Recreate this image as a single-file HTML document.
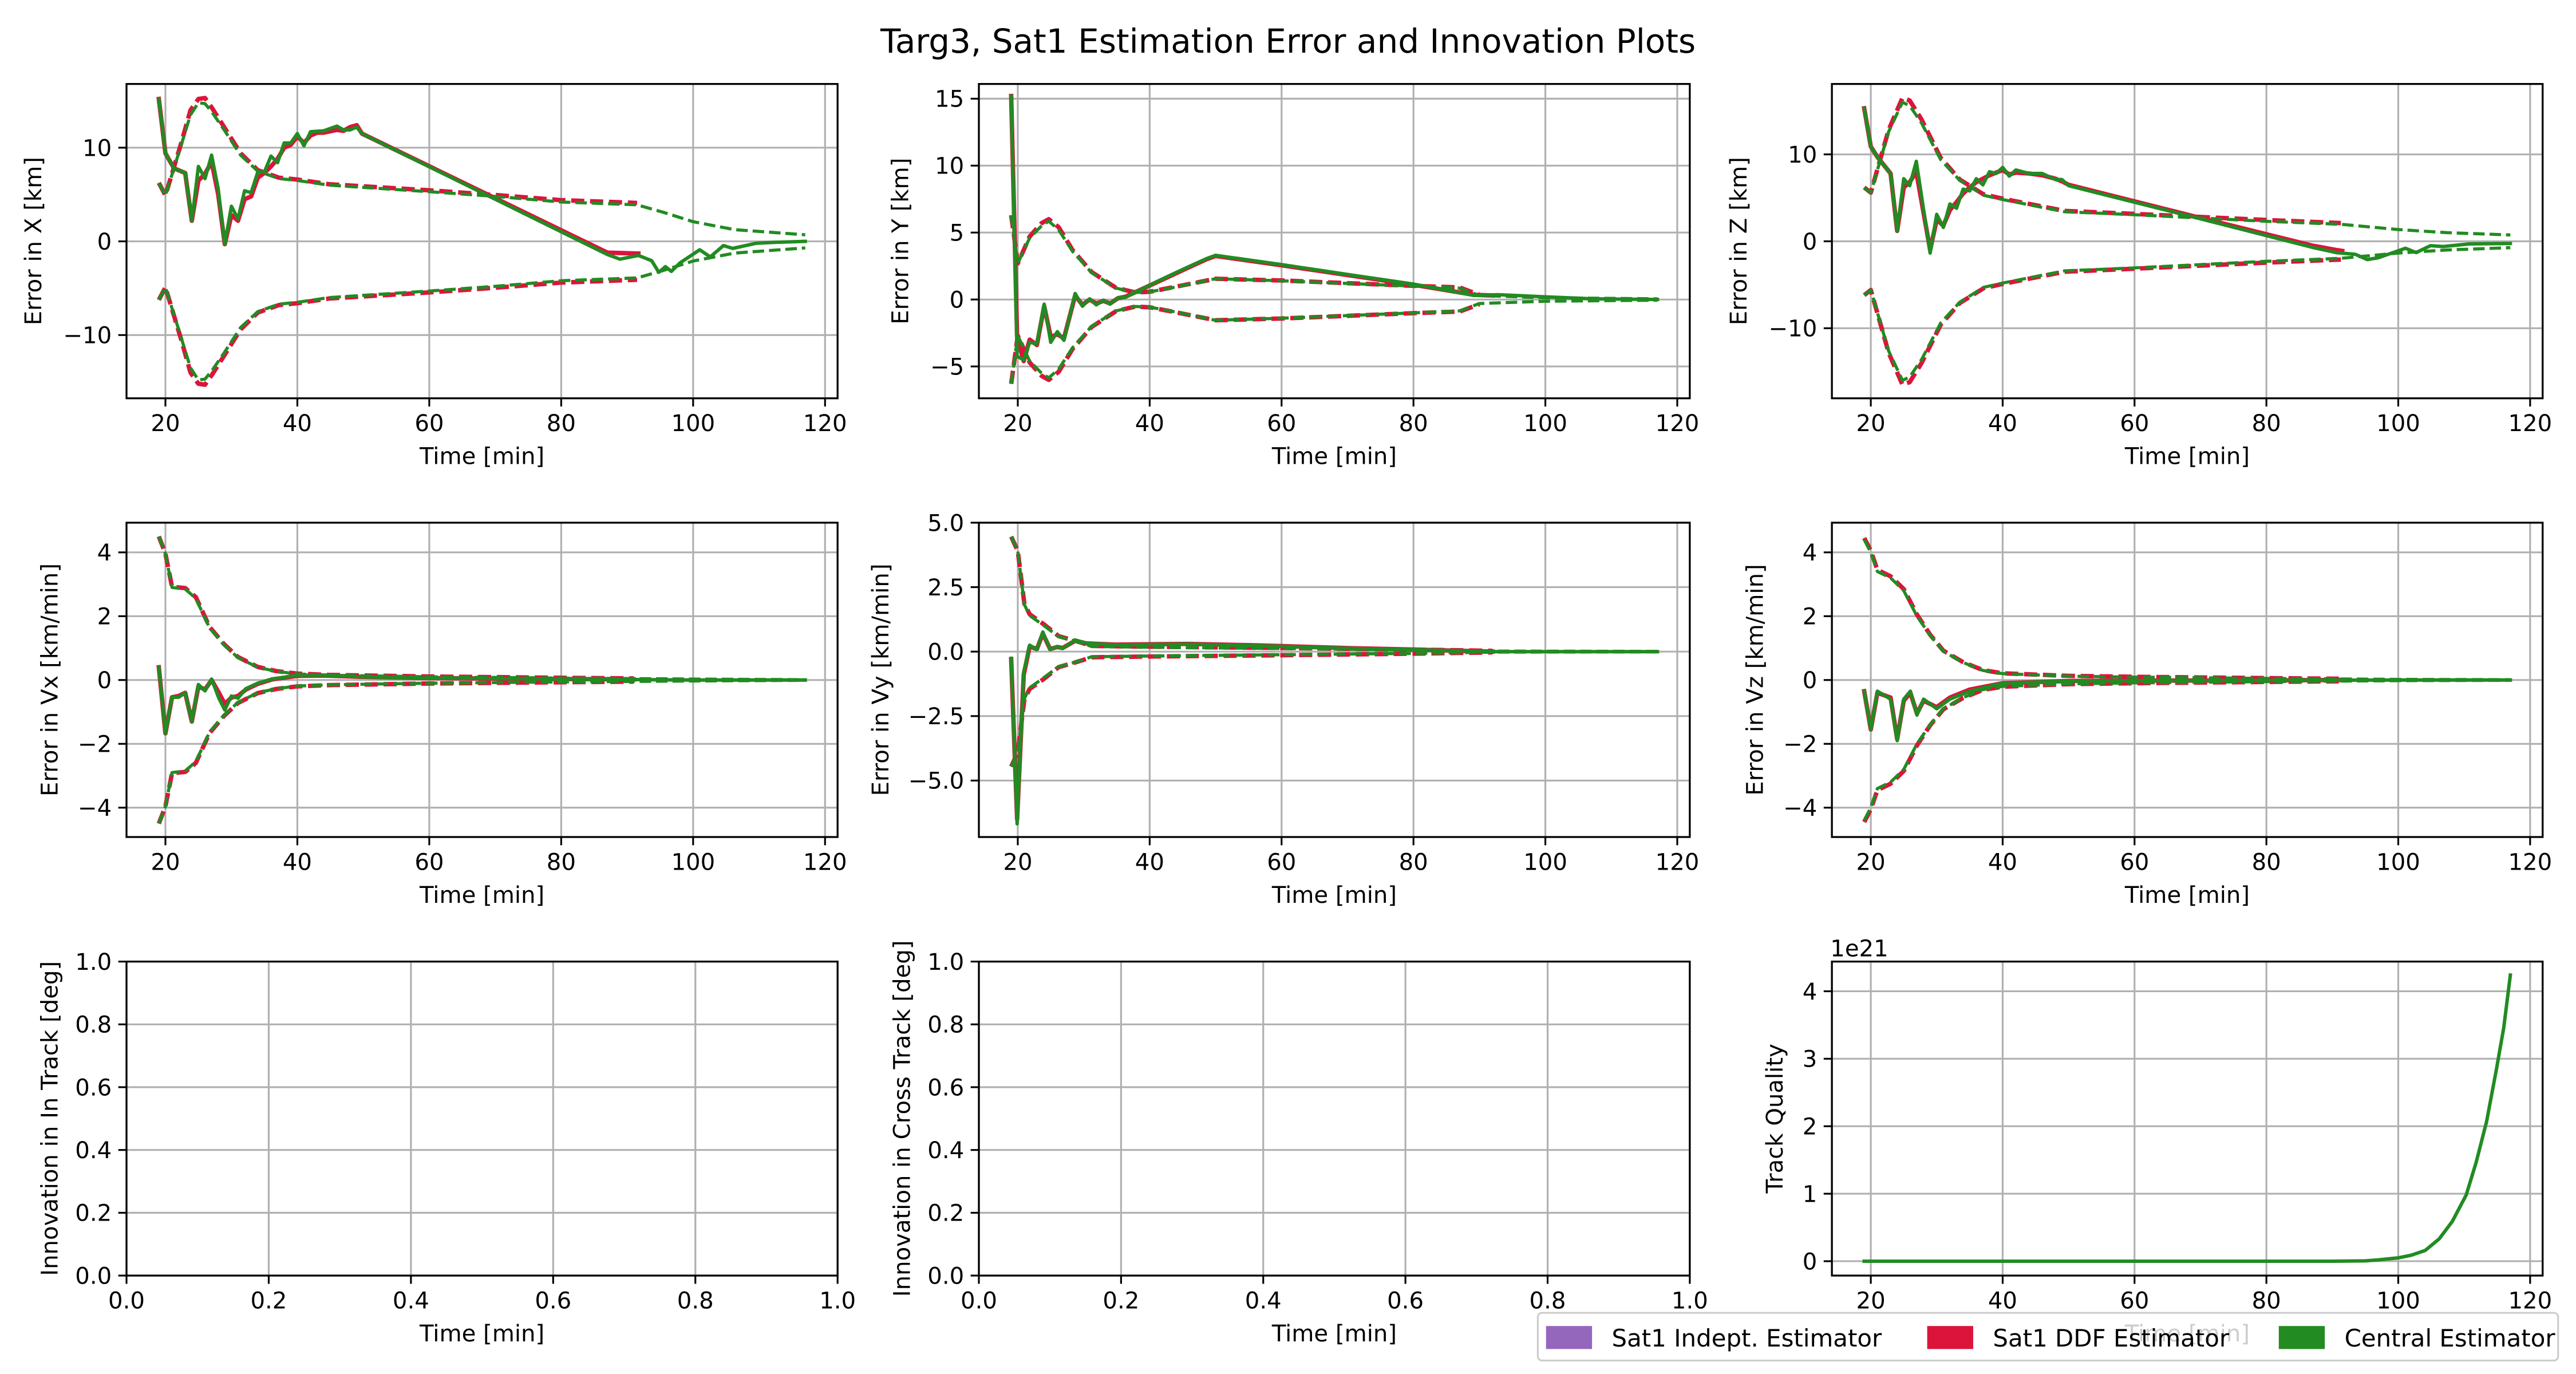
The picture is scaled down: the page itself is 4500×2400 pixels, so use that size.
<!DOCTYPE html>
<html><head><meta charset="utf-8"><style>
html,body{margin:0;padding:0;background:#fff;}
svg{display:block;font-family:"DejaVu Sans","Liberation Sans",sans-serif;}
</style></head><body>
<svg id="fig" width="4500" height="2400" viewBox="0 0 1567.9 836.2" preserveAspectRatio="none" xmlns="http://www.w3.org/2000/svg">
<rect x="0" y="0" width="1567.9" height="836.2" fill="#fff"/>
<text x="784" y="32" font-size="20.2" text-anchor="middle" fill="#000">Targ3, Sat1 Estimation Error and Innovation Plots</text>
</svg>
<script>
// ---- data arrays ----
const xErrT_central=[19,20,21.3,23,24,25,26,27,28,29,30,31,32,33,34,35,36,37,38,39,40,41,42,43,44,46,47,48,49,49.8,87,88.9,91.7,93.7,94.8,95.8,96.7,98,101,102.6,104.6,106,109.6,112.5,117];
const xErr_central=[15.2,9.4,7.8,7.3,2.2,8,6.7,9.2,5.6,-0.3,3.75,2.4,5.4,5.2,7.4,7.4,9.1,8.4,10.5,10.5,11.5,10.2,11.7,11.75,11.8,12.3,11.9,11.9,12.2,11.5,-1.4,-1.9,-1.5,-2.05,-3.3,-2.7,-3.2,-2.3,-0.9,-1.66,-0.45,-0.75,-0.2,-0.1,0];
const xErrT_ddf=[19,20,21.3,23,24,25,26,27,28,29,30,31,32,33,34,35,36,37,38,39,40,41,42,43,44,46,47,48,49,49.8,87,91.7];
const xErr_ddf=[15.2,9.4,7.8,7.3,2.2,6.5,7.2,8.5,5.0,-0.3,2.8,2.2,4.5,4.8,6.8,7.3,8.0,8.8,10.0,10.3,11.2,10.5,11.3,11.6,11.6,11.9,11.8,12.2,12.4,11.5,-1.2,-1.3];
const xSigT_central=[19,20,22.4,23.8,25,26,27.1,28.9,31.4,34,37.2,40,44.8,60,70,80,91.5,95.5,100,106.3,117];
const xSig_central=[6.25,4.9,10.3,13.5,14.8,14.7,13.75,11.9,9.2,7.5,6.7,6.5,6.0,5.3,4.8,4.2,3.9,3.1,2.1,1.25,0.7];
const xSigT_ddf=[19,20,22.4,23.8,25,26,27.1,28.9,31.4,34,37.2,40,44.8,60,70,80,91.5];
const xSig_ddf=[6.25,4.9,10.5,14.0,15.2,15.3,14.2,12.2,9.4,7.6,6.8,6.6,6.1,5.45,4.95,4.4,4.1];

const yErrT_central=[19,19.9,20.9,21.8,22.9,24,25,26,27,28.7,29.8,30.9,31.9,33,34,35.2,36.3,38.5,42,45.7,48.6,50,60.1,71,80,89.2,92.8,100,107.3,117];
const yErr_central=[15.2,-4.25,-4.5,-3.2,-3.3,-0.35,-3.2,-2.4,-3.05,0.45,-0.5,0.05,-0.4,-0.05,-0.35,0.13,0.16,0.7,1.55,2.4,3.05,3.3,2.6,1.8,1.15,0.3,0.36,0.2,0.05,0];
const yErrT_ddf=[19,19.9,20.9,21.8,22.9,24,25,26,27,28.7,29.8,30.9,31.9,33,34,35.2,36.3,38.5,42,45.7,48.6,50,60.1,71,80,89.2,92];
const yErr_ddf=[15.2,-2.8,-4.6,-3.0,-3.4,-0.5,-2.8,-2.6,-2.9,0.3,-0.4,0,-0.3,-0.1,-0.3,0.1,0.2,0.7,1.5,2.35,3.0,3.25,2.55,1.75,1.1,0.35,0.3];
const ySigT_central=[19,20,21.8,23.6,24.7,26.2,28.3,31.2,34.9,37.8,40,43.6,50,60,80,87,90,100,117];
const ySig_central=[6.3,2.7,4.6,5.5,5.85,5.2,3.6,2.0,0.85,0.52,0.57,0.9,1.55,1.4,1.0,0.85,0.3,0.13,0.05];
const ySigT_ddf=[19,20,21.8,23.6,24.7,26.2,28.3,31.2,34.9,37.8,40,43.6,50,60,80,87,90];
const ySig_ddf=[6.3,2.7,4.7,5.7,6.0,5.4,3.7,2.05,0.87,0.53,0.58,0.92,1.55,1.42,1.02,0.9,0.35];

const zErrT_central=[19,20,21,23,24,25,25.9,26.9,29,30,31,32,33,34,35,36,37,38,39,40,41,42,44,46,48,49,50,68.9,87,90.6,93.5,95.3,96.9,99.6,101.1,102.7,104.9,106.8,110.8,117];
const zErr_central=[15.3,10.9,9.7,7.8,1.2,7.2,6.4,9.2,-1.35,3.1,1.6,4.3,3.8,6,5.8,7.2,6.5,8,7.8,8.5,7.5,8.2,7.8,7.8,7.1,7.1,6.4,2.8,-0.7,-1.3,-1.5,-2.1,-1.9,-1.2,-0.8,-1.3,-0.5,-0.6,-0.3,-0.25];
const zErrT_ddf=[19,20,21,23,24,25,25.9,26.9,29,30,31,32,33,34,35,36,37,38,39,40,41,42,44,46,48,49,50,68.9,87,90.6,91.5];
const zErr_ddf=[15.3,10.9,9.7,7.8,1.2,6.2,6.8,8.0,-1.0,2.5,1.8,3.6,4.5,5.5,6.2,6.8,7.2,7.6,7.9,8.2,7.7,7.9,7.8,7.6,7.2,6.9,6.5,2.9,-0.5,-1.0,-1.1];
const zSigT_central=[19,20,22.7,24.8,25.9,27.7,30.6,33.5,37.1,40,49.4,60,80,91.3,100,107.3,117];
const zSig_central=[6.2,5.6,12.6,16.0,15.6,13.6,9.4,7.0,5.3,4.8,3.4,3.06,2.3,1.96,1.35,1.0,0.73];
const zSigT_ddf=[19,20,22.7,24.8,25.9,27.7,30.6,33.5,37.1,40,49.4,60,80,91.3];
const zSig_ddf=[6.2,5.6,12.8,16.5,16.2,14.0,9.6,7.1,5.4,4.9,3.5,3.15,2.45,2.1];

const vxErrT_central=[19,20,21,22,23,24,25,26,27,28.1,29,30,31,32.2,34,36.2,40,44,49.9,60,80,100,117];
const vxErr_central=[0.4,-1.67,-0.54,-0.54,-0.4,-1.3,-0.14,-0.34,0.03,-0.57,-0.94,-0.5,-0.57,-0.27,-0.1,0.03,0.15,0.15,0.1,0.06,0.03,0,0];
const vxErrT_ddf=[19,20,21,22,23,24,25,26,27,28.1,29,30,31,32.2,34,36.2,40,44,49.9,60,80,91];
const vxErr_ddf=[0.4,-1.67,-0.54,-0.5,-0.4,-1.3,-0.2,-0.3,0,-0.4,-0.75,-0.55,-0.5,-0.3,-0.12,0.02,0.13,0.14,0.1,0.06,0.03,0.02];
const vxSigT_central=[19,20,21,23,24.6,26.7,28.9,31,34,36.8,40,44.8,60,80,100,117];
const vxSig_central=[4.5,3.96,2.9,2.85,2.56,1.63,1.1,0.7,0.4,0.27,0.19,0.15,0.1,0.06,0.03,0.01];
const vxSigT_ddf=[19,20,21,23,24.6,26.7,28.9,31,34,36.8,40,44.8,60,80,91];
const vxSig_ddf=[4.5,3.96,2.92,2.88,2.6,1.66,1.12,0.72,0.41,0.28,0.2,0.16,0.11,0.07,0.05];

const vyErrT_central=[19,19.9,20.9,21.8,22.9,23.8,24.9,26,26.8,28.7,30.4,34.8,45.7,56.6,71,80,92,117];
const vyErr_central=[-0.26,-6.68,-0.8,0.25,0.08,0.76,0.08,0.2,0.12,0.45,0.33,0.26,0.29,0.23,0.12,0.08,0,0];
const vyErrT_ddf=[19,19.9,20.9,21.8,22.9,23.8,24.9,26,26.8,28.7,30.4,34.8,45.7,56.6,71,80,92];
const vyErr_ddf=[-0.3,-6.5,-0.9,0.2,0.1,0.7,0.1,0.18,0.14,0.42,0.32,0.27,0.3,0.24,0.13,0.08,0];
const vySigT_central=[19,20,21,21.8,24,26.2,28.7,31.2,40,60,80,92,117];
const vySig_central=[4.46,3.9,1.82,1.4,1.0,0.58,0.41,0.2,0.17,0.12,0.07,0.02,0.01];
const vySigT_ddf=[19,20,21,21.8,24,26.2,28.7,31.2,40,60,80,92];
const vySig_ddf=[4.46,3.9,1.85,1.45,1.05,0.6,0.42,0.22,0.19,0.14,0.08,0.03];

const vzErrT_central=[19,20,21,23,24,25,26,27,28,30,32,35,40,50,60,80,100,117];
const vzErr_central=[-0.35,-1.55,-0.35,-0.6,-1.9,-0.6,-0.35,-1.1,-0.6,-0.9,-0.6,-0.35,-0.1,-0.03,-0.02,-0.01,0,0];
const vzErrT_ddf=[19,20,21,23,24,25,26,27,28,30,32,35,40,50,60,80,91];
const vzErr_ddf=[-0.35,-1.55,-0.4,-0.55,-1.85,-0.65,-0.4,-1.05,-0.65,-0.85,-0.55,-0.3,-0.1,-0.03,-0.02,-0.01,0];
const vzSigT_central=[19,20,21,23,25,27,29,31,34,37,40,50,60,80,100,117];
const vzSig_central=[4.4,4.0,3.4,3.2,2.8,2.0,1.4,0.9,0.55,0.3,0.2,0.12,0.09,0.05,0.02,0.01];
const vzSigT_ddf=[19,20,21,23,25,27,29,31,34,37,40,50,60,80,91];
const vzSig_ddf=[4.45,4.05,3.45,3.25,2.85,2.05,1.42,0.92,0.56,0.31,0.21,0.13,0.1,0.06,0.04];

const tqT=[19,40,60,80,90,95,97,99,100,102,104.1,106.2,108.2,110.3,111.8,113.4,114.9,116,117];
const tqVal=[0,0,0,0,0,0.005,0.02,0.04,0.05,0.09,0.16,0.33,0.59,0.98,1.46,2.07,2.85,3.46,4.24];

const timeTicks=[20,40,60,80,100,120];
const xTicks=[-10,0,10], yTicks=[-5,0,5,10,15], zTicks=[-10,0,10];
const vTicks=[-4,-2,0,2,4], vyTicks=[-5.0,-2.5,0.0,2.5,5.0];
const unitTicks=[0.0,0.2,0.4,0.6,0.8,1.0], tqTicks=[0,1,2,3,4];
const legendLabels=["Sat1 Indept. Estimator","Sat1 DDF Estimator","Central Estimator"];

// ---- drawing ----
const NS="http://www.w3.org/2000/svg";
const svg=document.getElementById('fig');
const RED="#dc143c", GREEN="#228b22", PURPLE="#9467bd";
function el(tag,attrs,parent){const e=document.createElementNS(NS,tag);for(const k in attrs)e.setAttribute(k,attrs[k]);(parent||svg).appendChild(e);return e;}
let clipN=0;
function fmt(v,dec){return v.toFixed(dec).replace('-','\u2212');}
function makeAxes(o){
  const g=el('g',{});
  
  
  const sx=v=>o.L+(v-o.xmin)/(o.xmax-o.xmin)*(o.R-o.L);
  const sy=v=>o.B-(v-o.ymin)/(o.ymax-o.ymin)*(o.B-o.T);
  o.xt.forEach(v=>{const x=sx(v);const l=el('line',{x1:x,x2:x,y1:o.T,y2:o.B,stroke:'#b0b0b0','stroke-width':1.1},g);
    });
  o.yt.forEach(v=>{const y=sy(v);const l=el('line',{x1:o.L,x2:o.R,y1:y,y2:y,stroke:'#b0b0b0','stroke-width':1.1},g);
    });
  const id='c'+(clipN++);
  const cp=el('clipPath',{id:id},g);el('rect',{x:o.L,y:o.T,width:o.R-o.L,height:o.B-o.T},cp);
  const plot=el('g',{'clip-path':'url(#'+id+')'},g);
  o.xt.forEach(v=>{const x=sx(v);el('line',{x1:x,x2:x,y1:o.B,y2:o.B+5,stroke:'#000','stroke-width':1.1},g);
    const t=el('text',{x:x,y:o.B+20,'font-size':14,'text-anchor':'middle'},g);t.textContent=fmt(v,o.xdec);
    });
  o.yt.forEach(v=>{const y=sy(v);el('line',{x1:o.L-5,x2:o.L,y1:y,y2:y,stroke:'#000','stroke-width':1.1},g);
    const t=el('text',{x:o.L-9,y:y+5,'font-size':14,'text-anchor':'end'},g);t.textContent=fmt(v,o.ydec);
    });
  el('rect',{x:o.L,y:o.T,width:o.R-o.L,height:o.B-o.T,fill:'none',stroke:'#000','stroke-width':1.15},g);
  const xl=el('text',{x:(o.L+o.R)/2,y:o.B+40,'font-size':14,'text-anchor':'middle'},g);xl.textContent='Time [min]';
  
  const yx=o.L-o.ylOff, yy=(o.T+o.B)/2;
  const yl=el('text',{x:yx,y:yy,'font-size':14,'text-anchor':'middle',transform:'rotate(-90 '+yx+' '+yy+')'},g);yl.textContent=o.ylabel;
  
  return {sx,sy,plot,g};
}
function line(ax,ts,vs,sign,color,w,dash,name){
  const d=ts.map((t,i)=>(i?'L':'M')+ax.sx(t).toFixed(2)+' '+ax.sy(sign*vs[i]).toFixed(2)).join(' ');
  const p=el('path',{d:d,fill:'none',stroke:color,'stroke-width':w,'stroke-linejoin':'round','stroke-linecap':dash?'butt':'square'},ax.plot);
  if(dash)p.setAttribute('stroke-dasharray',dash);
  
  
}
function errPanel(ax,eTc,ec,eTd,ed,sTc,sc,sTd,sd){
  line(ax,sTd,sd,1,RED,2.7,'8 3.5','ddf-sigma-upper');
  line(ax,sTd,sd,-1,RED,2.7,'8 3.5','ddf-sigma-lower');
  line(ax,eTd,ed,1,RED,2.7,null,'ddf-error-line');
  line(ax,sTc,sc,1,GREEN,1.9,'7 3','central-sigma-upper');
  line(ax,sTc,sc,-1,GREEN,1.9,'7 3','central-sigma-lower');
  line(ax,eTc,ec,1,GREEN,2.1,null,'central-error-line');
}
const cols=[[77,509.8],[595.8,1028.5],[1115,1547.6]];
const rows=[[51.1,242.4],[318.1,509.4],[585.2,776.3]];
const XMIN=14.1,XMAX=121.9;
function base(c,r,name,ymin,ymax,yt,ydec,ylabel,ylOff){
  return makeAxes({name,L:cols[c][0],R:cols[c][1],T:rows[r][0],B:rows[r][1],xmin:XMIN,xmax:XMAX,xt:timeTicks,xdec:0,ymin,ymax,yt,ydec,ylabel,ylOff:ylOff||48});
}
let ax;
ax=base(0,0,'x-error-panel',-16.75,16.8,xTicks,0,'Error in X [km]',52);
errPanel(ax,xErrT_central,xErr_central,xErrT_ddf,xErr_ddf,xSigT_central,xSig_central,xSigT_ddf,xSig_ddf);
ax=base(1,0,'y-error-panel',-7.38,16.1,yTicks,0,'Error in Y [km]',43);
errPanel(ax,yErrT_central,yErr_central,yErrT_ddf,yErr_ddf,ySigT_central,ySig_central,ySigT_ddf,ySig_ddf);
ax=base(2,0,'z-error-panel',-18.06,18.1,zTicks,0,'Error in Z [km]',52);
errPanel(ax,zErrT_central,zErr_central,zErrT_ddf,zErr_ddf,zSigT_central,zSig_central,zSigT_ddf,zSig_ddf);
ax=base(0,1,'vx-error-panel',-4.92,4.93,vTicks,0,'Error in Vx [km/min]',42);
errPanel(ax,vxErrT_central,vxErr_central,vxErrT_ddf,vxErr_ddf,vxSigT_central,vxSig_central,vxSigT_ddf,vxSig_ddf);
ax=base(1,1,'vy-error-panel',-7.19,5.0,vyTicks,1,'Error in Vy [km/min]',55);
errPanel(ax,vyErrT_central,vyErr_central,vyErrT_ddf,vyErr_ddf,vySigT_central,vySig_central,vySigT_ddf,vySig_ddf);
ax=base(2,1,'vz-error-panel',-4.92,4.93,vTicks,0,'Error in Vz [km/min]',42);
errPanel(ax,vzErrT_central,vzErr_central,vzErrT_ddf,vzErr_ddf,vzSigT_central,vzSig_central,vzSigT_ddf,vzSig_ddf);
makeAxes({name:'in-track-innovation-panel',L:cols[0][0],R:cols[0][1],T:rows[2][0],B:rows[2][1],xmin:0,xmax:1,xt:unitTicks,xdec:1,ymin:0,ymax:1,yt:unitTicks,ydec:1,ylabel:'Innovation in In Track [deg]',ylOff:42});
makeAxes({name:'cross-track-innovation-panel',L:cols[1][0],R:cols[1][1],T:rows[2][0],B:rows[2][1],xmin:0,xmax:1,xt:unitTicks,xdec:1,ymin:0,ymax:1,yt:unitTicks,ydec:1,ylabel:'Innovation in Cross Track [deg]',ylOff:42});
ax=base(2,2,'track-quality-panel',-0.213,4.44,tqTicks,0,'Track Quality',30);
line(ax,tqT,tqVal,1,GREEN,2.1,null,'track-quality-line');
const off=el('text',{x:1114,y:582,'font-size':14});off.textContent='1e21';


// legend
const lg=el('g',{});


el('rect',{x:936,y:799,width:621,height:29,rx:2.5,fill:'#fff','fill-opacity':0.8,stroke:'#cccccc','stroke-width':1.1},lg);
const lgColors=[PURPLE,RED,GREEN], lgX=[941,1173,1387];
legendLabels.forEach((lab,i)=>{
  const r=el('rect',{x:lgX[i],y:807,width:28,height:14,fill:lgColors[i]},lg);
  
  
  const t=el('text',{x:lgX[i]+40,y:819.5,'font-size':14.6},lg);t.textContent=lab;
  
  
});
</script>
</body></html>
